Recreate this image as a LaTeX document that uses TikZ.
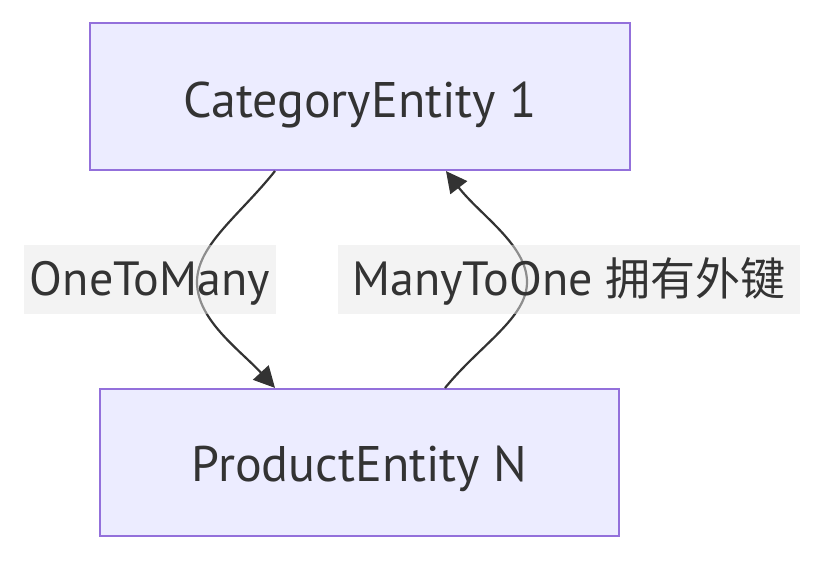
\documentclass[tikz,border=0pt]{standalone}
\usepackage{fontspec}
\setmainfont{PT Sans}
\newfontfamily\cjk{Noto Sans CJK SC}
\usetikzlibrary{arrows.meta}
\definecolor{boxfill}{HTML}{ECECFF}
\definecolor{boxline}{HTML}{9370DB}
\definecolor{txt}{HTML}{333333}
\definecolor{lblbg}{HTML}{E8E8E8}
\tikzset{
  entity/.style={draw=boxline, fill=boxfill, line width=2.2pt, text=txt, inner sep=0pt, text depth=4pt, font=\fontsize{50}{54}\selectfont},
  lbl/.style={fill=lblbg, fill opacity=0.5, text opacity=1, text=txt, inner sep=0pt, text height=33pt, text depth=2pt, font=\fontsize{48}{54}\selectfont},
  conn/.style={draw=txt, line width=2.2pt, -{Triangle[length=21pt,width=21pt]}}
}
\begin{document}
\begin{tikzpicture}[x=1pt,y=-1pt]
\useasboundingbox (0,0) rectangle (824,560);
\node[entity, text height=45pt, minimum width=540pt, minimum height=147pt] (cat) at (360,96.5) {CategoryEntity 1};
\node[entity, text height=42pt, minimum width=519pt, minimum height=147pt] (prod) at (359.5,462.5) {ProductEntity N};
\coordinate (c1) at (275,171);
\coordinate (p2) at (445,388);
\coordinate (m1) at (197,282);
\coordinate (m2) at (527,282);
\draw[conn] (c1) .. controls (240,215) and (197,245) .. (m1) .. controls (197,320) and (240,350) .. (prod.north -| 275,0);
\draw[conn] (p2) .. controls (480,345) and (527,318) .. (m2) .. controls (527,245) and (480,215) .. (cat.south -| 446,0);
\node[lbl, minimum width=252pt, minimum height=69pt] (l1) at (150,279.5) {OneToMany};
\node[lbl, minimum width=462pt, minimum height=69pt] (l2) at (569,279.5) {ManyToOne {\cjk\fontsize{45}{54}\selectfont 拥有外键}};
\end{tikzpicture}
\end{document}
